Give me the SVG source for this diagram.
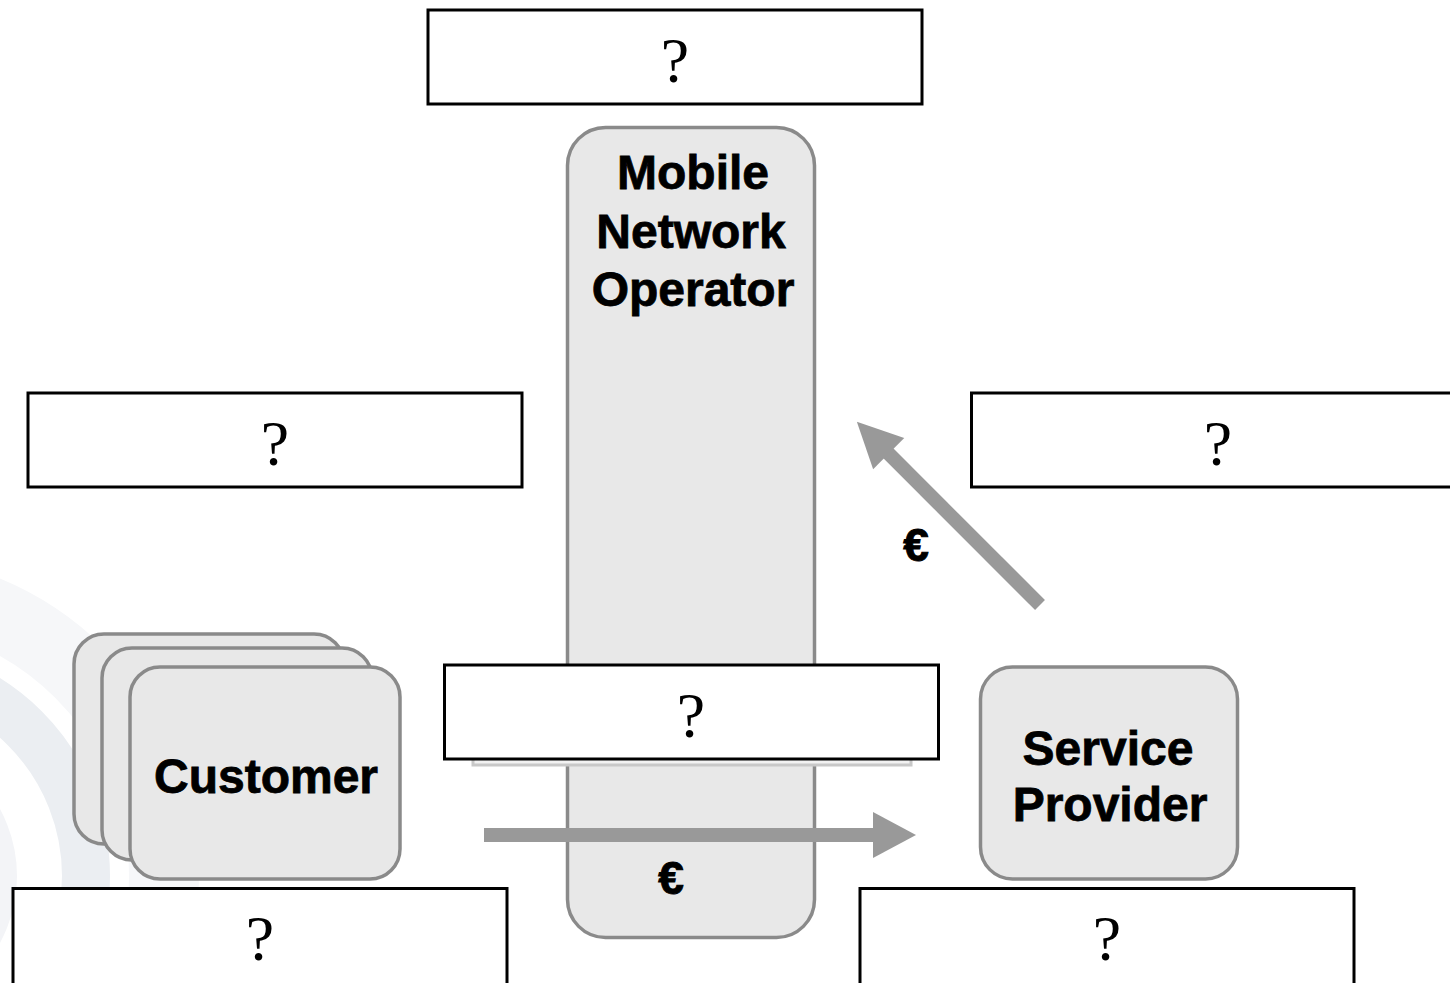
<svg xmlns="http://www.w3.org/2000/svg" width="1450" height="983" viewBox="0 0 1450 983">
<style>
.actor{fill:#e8e8e8;stroke:#8a8a8a;stroke-width:3.5}
.lbl{fill:#000;font-family:"Liberation Sans",Arial,sans-serif;font-weight:bold;font-size:48px;text-anchor:middle;stroke:#000;stroke-width:0.8}
.euro{fill:#000;font-family:"Liberation Sans",Arial,sans-serif;font-weight:bold;font-size:46px;text-anchor:middle;stroke:#000;stroke-width:1}
.qbox{fill:#fff;stroke:#000;stroke-width:3}
.q{fill:#000;font-family:"Liberation Serif","Times New Roman",serif;font-size:64px;text-anchor:middle}
.shaft{stroke:#999;stroke-width:14;fill:none}
.head{fill:#999}
.ring{fill:none}
</style>
<rect width="1450" height="983" fill="#fff"/>
<g id="background">
<circle class="ring" cx="-123" cy="876" r="287" stroke="#f6f7f9" stroke-width="70"/>
<circle class="ring" cx="-123" cy="876" r="209" stroke="#ebeef2" stroke-width="48"/>
<circle class="ring" cx="-123" cy="876" r="120" stroke="#f3f4f7" stroke-width="40"/>
</g>
<g id="mno">
<rect class="actor" x="567.5" y="127.5" width="247" height="810" rx="38"/>
<text class="lbl" x="693" y="189">Mobile</text>
<text class="lbl" x="691" y="248">Network</text>
<text class="lbl" x="693" y="306">Operator</text>
</g>
<g id="mno-label-shadow">
<rect x="473" y="700" width="438" height="65" fill="#f2f2f2" stroke="#c8c8c8" stroke-width="3"/>
</g>
<g id="customer">
<rect class="actor" x="74" y="634" width="270" height="210" rx="30"/>
<rect class="actor" x="102" y="648" width="270" height="212" rx="30"/>
<rect class="actor" x="130" y="667" width="270" height="212" rx="30"/>
<text class="lbl" x="266" y="793">Customer</text>
</g>
<g id="service-provider">
<rect class="actor" x="980.5" y="667" width="257" height="212" rx="32"/>
<text class="lbl" x="1108" y="765">Service</text>
<text class="lbl" x="1110" y="821">Provider</text>
</g>
<g id="connectors">
<g id="arrow-customer-sp">
<line class="shaft" x1="484" y1="835" x2="875" y2="835"/>
<polygon class="head" points="873,812 916,835 873,858"/>
<text class="euro" x="671" y="894">€</text>
</g>
<g id="arrow-sp-mno">
<g transform="translate(1040,605) rotate(-135)">
<line class="shaft" x1="0" y1="0" x2="217" y2="0"/>
<polygon class="head" points="214,-22 259,0 214,22"/>
</g>
<text class="euro" x="916" y="561">€</text>
</g>
</g>
<g id="q-top"><rect class="qbox" x="428" y="10" width="494" height="94"/><text class="q" x="675" y="82">?</text></g>
<g id="q-left"><rect class="qbox" x="28" y="393" width="494" height="94"/><text class="q" x="275" y="465">?</text></g>
<g id="q-right"><rect class="qbox" x="971.5" y="393" width="494" height="94"/><text class="q" x="1218" y="465">?</text></g>
<g id="q-middle"><rect class="qbox" x="444.5" y="665" width="494" height="94"/><text class="q" x="691" y="737">?</text></g>
<g id="q-bottom-left"><rect class="qbox" x="13" y="888.5" width="494" height="110"/><text class="q" x="260" y="960">?</text></g>
<g id="q-bottom-right"><rect class="qbox" x="860" y="888.5" width="494" height="110"/><text class="q" x="1107" y="960">?</text></g>
</svg>
